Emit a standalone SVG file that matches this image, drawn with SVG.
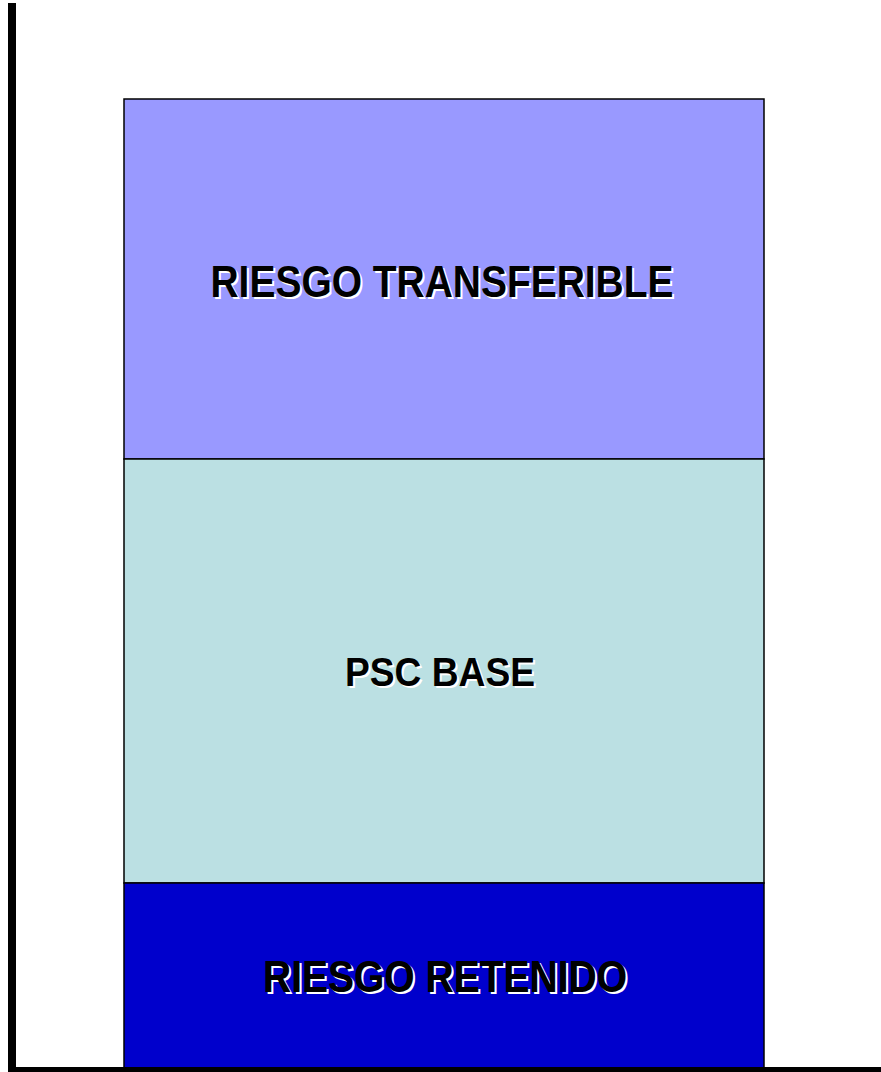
<svg xmlns="http://www.w3.org/2000/svg" width="881" height="1072" viewBox="0 0 881 1072">
<style>
.box{stroke:#000;stroke-width:1.5}
.lbl{font-family:"Liberation Sans Narrow","Liberation Sans",Arial,sans-serif;font-weight:bold;font-size:44px;text-anchor:middle}
.sm{font-size:41px}
.sh{fill:#fff}
.tx{fill:#000}
</style>
<rect width="881" height="1072" fill="#fff"/>
<g id="transferible">
<rect class="box" x="124" y="99" width="640" height="360" fill="#9999ff"/>
<text class="lbl sh" x="444" y="299" textLength="463" lengthAdjust="spacingAndGlyphs">RIESGO TRANSFERIBLE</text>
<text class="lbl tx" x="442" y="297" textLength="463" lengthAdjust="spacingAndGlyphs">RIESGO TRANSFERIBLE</text>
</g>
<g id="psc">
<rect class="box" x="124" y="459" width="640" height="424" fill="#bbe0e3"/>
<text class="lbl sm sh" x="442" y="688" textLength="190" lengthAdjust="spacingAndGlyphs">PSC BASE</text>
<text class="lbl sm tx" x="440" y="686" textLength="190" lengthAdjust="spacingAndGlyphs">PSC BASE</text>
</g>
<g id="retenido">
<rect class="box" x="124" y="883" width="640" height="186" fill="#0000cc"/>
<text class="lbl sh" x="447" y="994" textLength="364" lengthAdjust="spacingAndGlyphs">RIESGO RETENIDO</text>
<text class="lbl tx" x="445" y="992" textLength="364" lengthAdjust="spacingAndGlyphs">RIESGO RETENIDO</text>
</g>
<g id="axes">
<rect x="8" y="3" width="8" height="1069" fill="#000"/>
<rect x="8" y="1067" width="873" height="5" fill="#000"/>
</g>
</svg>
